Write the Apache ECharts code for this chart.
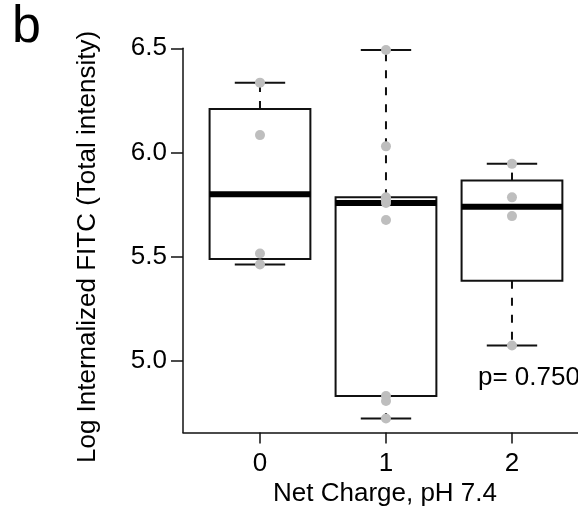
<!DOCTYPE html>
<html>
<head>
<meta charset="utf-8">
<script src="https://cdn.jsdelivr.net/npm/echarts@6/dist/echarts.min.js"></script>
<style>
  html, body { margin: 0; padding: 0; background: #fff; }
  #chart { width: 578px; height: 506px; }
</style>
</head>
<body>
<div id="chart"></div>
<script>
// Group positions and tick labels on the x axis
const groupPositions = [0, 1, 2];
const xTickValues = [0, 1, 2];
const yTickValues = [5.0, 5.5, 6.0, 6.5];

// Log internalized FITC, one array per net charge group
const charge0 = [6.335, 6.083, 5.514, 5.462];
const charge1 = [6.492, 6.029, 5.784, 5.770, 5.757, 5.675, 4.830, 4.806, 4.722];
const charge2 = [5.945, 5.784, 5.694, 5.072];

const groups = [charge0, charge1, charge2];
const pLabel = 'p= 0.750';

const FONT = '"Liberation Sans", Arial, Helvetica, sans-serif';

// Tukey five-number summary (hinges), as used by classic boxplots
function fivenum(values) {
  const x = values.slice().sort((a, b) => a - b);
  const n = x.length;
  const n4 = Math.floor((n + 3) / 2) / 2;
  const d = [1, n4, (n + 1) / 2, n + 1 - n4, n];
  return d.map(p => 0.5 * (x[Math.floor(p) - 1] + x[Math.ceil(p) - 1]));
}

function boxStats(values) {
  const f = fivenum(values);
  const iqr = f[3] - f[1];
  const loFence = f[1] - 1.5 * iqr, hiFence = f[3] + 1.5 * iqr;
  const inside = values.filter(v => v >= loFence && v <= hiFence);
  return {
    lo: Math.min(...inside), q1: f[1], med: f[2], q3: f[3], hi: Math.max(...inside)
  };
}

const boxData = groups.map((vals, i) => {
  const s = boxStats(vals);
  return [groupPositions[i], s.q1, s.med, s.q3, s.lo, s.hi];
});

const pointData = [];
groups.forEach((vals, i) => vals.forEach(v => pointData.push([groupPositions[i], v])));

const BOX_HALF = 0.4, CAP_HALF = 0.2;

function renderBox(params, api) {
  const x = api.value(0);
  const q1 = api.value(1), med = api.value(2), q3 = api.value(3);
  const lo = api.value(4), hi = api.value(5);
  const tl = api.coord([x - BOX_HALF, q3]);
  const br = api.coord([x + BOX_HALF, q1]);
  const mL = api.coord([x - BOX_HALF, med]);
  const mR = api.coord([x + BOX_HALF, med]);
  const top = api.coord([x, q3]);
  const bot = api.coord([x, q1]);
  const hiP = api.coord([x, hi]);
  const loP = api.coord([x, lo]);
  const capHL = api.coord([x - CAP_HALF, hi]);
  const capHR = api.coord([x + CAP_HALF, hi]);
  const capLL = api.coord([x - CAP_HALF, lo]);
  const capLR = api.coord([x + CAP_HALF, lo]);
  const stroke = '#111';
  return {
    type: 'group',
    children: [
      { type: 'line', shape: { x1: top[0], y1: top[1], x2: hiP[0], y2: hiP[1] },
        style: { stroke, lineWidth: 2, lineDash: [8, 9] } },
      { type: 'line', shape: { x1: bot[0], y1: bot[1], x2: loP[0], y2: loP[1] },
        style: { stroke, lineWidth: 2, lineDash: [8, 9] } },
      { type: 'line', shape: { x1: capHL[0], y1: capHL[1], x2: capHR[0], y2: capHR[1] },
        style: { stroke, lineWidth: 2 } },
      { type: 'line', shape: { x1: capLL[0], y1: capLL[1], x2: capLR[0], y2: capLR[1] },
        style: { stroke, lineWidth: 2 } },
      { type: 'rect', shape: { x: tl[0], y: tl[1], width: br[0] - tl[0], height: br[1] - tl[1] },
        style: { fill: 'none', stroke, lineWidth: 2 } },
      { type: 'line', shape: { x1: mL[0], y1: mL[1], x2: mR[0], y2: mR[1] },
        style: { stroke: '#000', lineWidth: 6 } }
    ]
  };
}

const chart = echarts.init(document.getElementById('chart'), null, { renderer: 'canvas' });

chart.setOption({
  animation: false,
  backgroundColor: '#fff',
  grid: { left: 183, top: 48.3, width: 395, height: 384.3, containLabel: false },
  xAxis: {
    type: 'value',
    min: -0.611,
    max: 2.524,
    splitLine: { show: false },
    axisLine: { show: true, onZero: false, lineStyle: { color: '#111', width: 1.5 } },
    axisTick: { show: true, customValues: xTickValues, length: 11, lineStyle: { color: '#111', width: 1.5 } },
    axisLabel: {
      show: true, customValues: xTickValues, margin: 18,
      color: '#000', fontSize: 26, fontFamily: FONT,
      formatter: v => String(v)
    }
  },
  yAxis: {
    type: 'value',
    min: 4.654,
    max: 6.5,
    splitLine: { show: false },
    axisLine: { show: true, onZero: false, lineStyle: { color: '#111', width: 1.5 } },
    axisTick: { show: true, customValues: yTickValues, length: 12, lineStyle: { color: '#111', width: 1.5 } },
    axisLabel: {
      show: true, customValues: yTickValues, margin: 16,
      color: '#000', fontSize: 26, fontFamily: FONT,
      formatter: v => v.toFixed(1)
    }
  },
  series: [
    {
      type: 'custom',
      name: 'box',
      renderItem: renderBox,
      data: boxData,
      z: 2,
      silent: true
    },
    {
      type: 'scatter',
      name: 'points',
      data: pointData,
      symbol: 'circle',
      symbolSize: 10,
      itemStyle: { color: '#bebebe', opacity: 1 },
      z: 3,
      silent: true
    }
  ],
  graphic: [
    {
      type: 'text', left: 12, top: 2,
      style: { text: 'b', fill: '#000', font: '52px ' + FONT }
    },
    {
      type: 'text', x: 88, y: 247, rotation: Math.PI / 2,
      style: {
        text: 'Log Internalized FITC (Total intensity)', fill: '#000',
        font: '26px ' + FONT, align: 'center', verticalAlign: 'middle'
      }
    },
    {
      type: 'text', x: 385, y: 494,
      style: {
        text: 'Net Charge, pH 7.4', fill: '#000',
        font: '26px ' + FONT, align: 'center', verticalAlign: 'middle'
      }
    },
    {
      type: 'text', x: 478, y: 378,
      style: {
        text: pLabel, fill: '#000',
        font: '26px ' + FONT, align: 'left', verticalAlign: 'middle'
      }
    }
  ]
});
</script>
</body>
</html>
